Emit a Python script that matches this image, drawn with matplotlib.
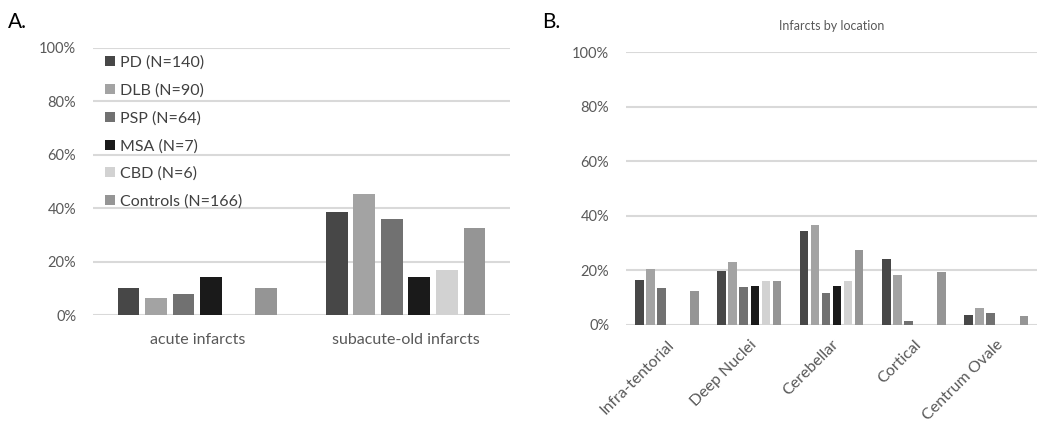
import numpy as np
import matplotlib.pyplot as plt
from matplotlib.ticker import PercentFormatter

plt.rcParams['font.family'] = ['Lato', 'DejaVu Sans']

# Data (fractions)
groups = ['PD (N=140)', 'DLB (N=90)', 'PSP (N=64)', 'MSA (N=7)', 'CBD (N=6)', 'Controls (N=166)']
colors = ['#474747', '#a3a3a3', '#717171', '#1a1a1a', '#d2d2d2', '#959595']

cats_a = ['acute infarcts', 'subacute-old infarcts']
vals_a = [
    [0.10, 0.386],   # PD
    [0.064, 0.453],  # DLB
    [0.078, 0.359],  # PSP
    [0.143, 0.143],  # MSA
    [0.0, 0.167],    # CBD
    [0.102, 0.325],  # Controls
]

cats_b = ['Infra-tentorial', 'Deep Nuclei', 'Cerebellar', 'Cortical', 'Centrum Ovale']
vals_b = [
    [0.166, 0.198, 0.343, 0.243, 0.037],  # PD
    [0.206, 0.230, 0.366, 0.182, 0.061],  # DLB
    [0.137, 0.14, 0.118, 0.015, 0.045],   # PSP
    [0.0, 0.143, 0.143, 0.0, 0.0],        # MSA
    [0.0, 0.163, 0.163, 0.0, 0.0],        # CBD
    [0.126, 0.16, 0.276, 0.196, 0.034],   # Controls
]

grid_c = '#d9d9d9'
txt_c = '#595959'

fig = plt.figure(figsize=(10.5, 4.24), dpi=100)
axA = fig.add_axes([0.0886, 0.257, 0.397, 0.630])
axB = fig.add_axes([0.596, 0.2335, 0.392, 0.6435])

def style(ax):
    ax.set_ylim(0, 1)
    ax.set_yticks(np.arange(0, 1.01, 0.2))
    ax.yaxis.set_major_formatter(PercentFormatter(1.0, decimals=0))
    for s in ax.spines.values():
        s.set_visible(False)
    ax.grid(axis='y', color=grid_c, lw=1.5)
    ax.set_axisbelow(True)
    ax.tick_params(length=0, colors=txt_c, labelsize=10.5)
    ax.tick_params(axis='y', pad=12)

# Panel A
xa = np.arange(len(cats_a))
step, w = 0.132, 0.105
for i, (g, c) in enumerate(zip(groups, colors)):
    axA.bar(xa + (i - 2.5) * step, vals_a[i], width=w, color=c, label=g)
axA.set_xlim(-0.5, 1.5)
style(axA)
axA.set_xticks(xa)
axA.set_xticklabels(cats_a)
axA.tick_params(axis='x', pad=13, labelsize=11.5)
leg = axA.legend(loc='upper left', bbox_to_anchor=(-0.005, 1.025), frameon=False,
                 fontsize=11.5, handlelength=0.6, handleheight=0.6,
                 handletextpad=0.35, labelspacing=0.84)
for t in leg.get_texts():
    t.set_color('#404040')

# Panel B
xb = np.arange(len(cats_b))
step, w = 0.134, 0.104
for i, c in enumerate(colors):
    axB.bar(xb + (i - 2.5) * step, vals_b[i], width=w, color=c)
axB.set_xlim(-0.5, 4.5)
style(axB)
axB.set_xticks(xb)
axB.set_xticklabels(cats_b, rotation=45, ha='right', rotation_mode='anchor')
axB.tick_params(axis='x', pad=9, labelsize=11.5)
axB.set_title('Infarcts by location', fontsize=9, color=txt_c, pad=16)

fig.text(0.008, 0.935, 'A.', fontsize=15, color='black')
fig.text(0.516, 0.935, 'B.', fontsize=15, color='black')

fig.savefig('out.png', dpi=100)
